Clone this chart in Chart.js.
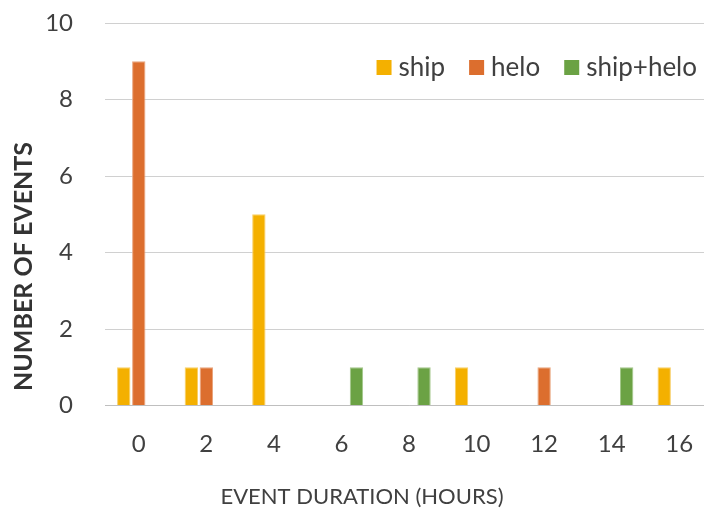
<!DOCTYPE html>
<html><head><meta charset="utf-8">
<script src="https://cdn.jsdelivr.net/npm/chart.js@4"></script>
<style>
html,body{margin:0;padding:0;background:#fff;overflow:hidden;width:704px;height:510px;}
#wrap{width:716px;height:510px;position:relative;}
canvas{display:block;}
</style></head><body>
<div id="wrap"><canvas id="c" width="716" height="510"></canvas></div>
<script>
const categories = ['0','2','4','6','8','10','12','14','16'];
const shipValues = [1,1,5,0,0,1,0,0,1];
const heloValues = [9,1,0,0,0,0,1,0,0];
const shipHeloValues = [0,0,0,1,1,0,0,1,0];
const seriesNames = ['ship','helo','ship+helo'];
const yTickLabels = ['0','2','4','6','8','10'];
const xTitle = 'EVENT DURATION (HOURS)';
const yTitle = 'NUMBER OF EVENTS';

const insideLegend = {
  id: 'insideLegend',
  afterDraw(chart) {
    const ctx = chart.ctx;
    ctx.save();
    ctx.font = '26px Lato';
    ctx.textBaseline = 'middle';
    const box = 15, gap = 7, spacing = 24;
    const items = chart.data.datasets.map(d => ({text: d.label, color: d.backgroundColor, w: ctx.measureText(d.label).width}));
    const total = items.reduce((s, it) => s + box + gap + it.w, 0) + spacing * (items.length - 1);
    let x = 697 - total;
    const yc = 67;
    items.forEach(it => {
      ctx.fillStyle = it.color;
      ctx.fillRect(x, yc - 7, box, box);
      x += box + gap;
      ctx.fillStyle = '#404040';
      ctx.fillText(it.text, x, yc + 1);
      x += it.w + spacing;
    });
    ctx.restore();
  }
};

const barStyle = {categoryPercentage: 0.667, barPercentage: 0.89, borderWidth: 1, borderSkipped: 'start'};

new Chart(document.getElementById('c'), {
  type: 'bar',
  data: {
    labels: categories,
    datasets: [
      Object.assign({label: seriesNames[0], data: shipValues, backgroundColor: '#F4B000', borderColor: '#F8CF66'}, barStyle),
      Object.assign({label: seriesNames[1], data: heloValues, backgroundColor: '#DC6E2E', borderColor: '#E9A57E'}, barStyle),
      Object.assign({label: seriesNames[2], data: shipHeloValues, backgroundColor: '#6BA244', borderColor: '#A3C78A'}, barStyle)
    ]
  },
  options: {
    responsive: false,
    animation: false,
    devicePixelRatio: 1,
    layout: {padding: {top: 23, right: 3, left: 11, bottom: 0}},
    plugins: {
      legend: {display: false},
      tooltip: {enabled: false},
      title: {display: true, text: yTitle, position: 'left', color: '#333333',
        font: {family: 'Lato', size: 25, weight: 'bold', lineHeight: 1.0}, padding: {top: 0, bottom: 9}},
      subtitle: {display: true, text: xTitle, position: 'bottom', color: '#404040',
        font: {family: 'Lato', size: 22}, padding: {top: 25, bottom: 0}}
    },
    scales: {
      x: {
        afterFit(s) { s.height = 53; s.paddingLeft = 0; s.paddingRight = 0; },
        grid: {display: false, drawTicks: false},
        border: {display: true, color: '#BFBFBF', width: 1},
        ticks: {color: '#404040', font: {family: 'Lato', size: 24}, padding: 24, maxRotation: 0}
      },
      y: {
        min: 0, max: 10,
        afterFit(s) { s.width = 60; s.paddingTop = 14; s.paddingBottom = 14; },
        grid: {color: '#D0D0D0', drawTicks: false},
        border: {display: false},
        ticks: {stepSize: 2, color: '#404040', font: {family: 'Lato', size: 24}, padding: 32,
          callback: (v, i) => yTickLabels[i]}
      }
    }
  },
  plugins: [insideLegend]
});
</script>
</body></html>
